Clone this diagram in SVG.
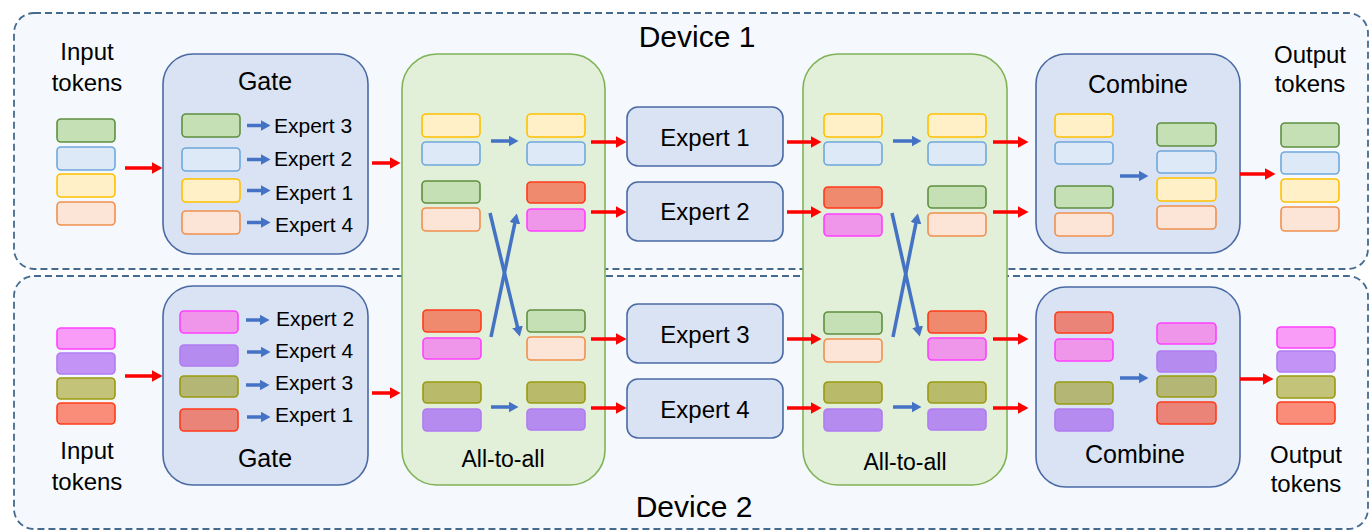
<svg xmlns="http://www.w3.org/2000/svg" width="1370" height="531" viewBox="0 0 1370 531">
<defs>
<style>
text{font-family:"Liberation Sans",Arial,sans-serif;fill:#000}
.dev{fill:#f5f8fc;stroke:#456a8e;stroke-width:1.8;stroke-dasharray:7 4}
.box{fill:#dae3f3;stroke:#4a6aa5;stroke-width:1.6}
.a2a{fill:#e2efd9;stroke:#7fb356;stroke-width:1.6}
.t{stroke-width:1.6}
.g{fill:#c5e0b4;stroke:#5f8f40}
.b{fill:#dde9f6;stroke:#6fa8dc}
.y{fill:#fff0c8;stroke:#ffc000}
.o{fill:#fce4d6;stroke:#f0904e}
.p{fill:#f096ea;stroke:#ff40ff}
.v{fill:#b68bef;stroke:#b07cf2}
.k{fill:#b9ba6a;stroke:#9a9a10}
.r{fill:#ef8a6e;stroke:#ff3b1a}
.ra{stroke:#ff0000;stroke-width:3.5;fill:none;marker-end:url(#rh)}
.ba{stroke:#4472c4;stroke-width:3.5;fill:none;marker-end:url(#bh)}
.title{font-size:30px}
.lab{font-size:24px}
.gt{font-size:25px}
.ex{font-size:21px}
.ek{font-size:24px}
.al{font-size:23px}
</style>
<marker id="rh" markerUnits="userSpaceOnUse" viewBox="0 0 11 12" markerWidth="11" markerHeight="12" refX="0.5" refY="6" orient="auto"><path d="M0,0 L11,6 L0,12 z" fill="#ff0000"/></marker>
<marker id="bh" markerUnits="userSpaceOnUse" viewBox="0 0 10 11" markerWidth="10" markerHeight="11" refX="0.5" refY="5.5" orient="auto"><path d="M0,0 L10,5.5 L0,11 z" fill="#4472c4"/></marker>
</defs>

<g id="device1">
<rect class="dev" x="14" y="13" width="1354" height="256" rx="20"/>
<text class="title" x="697" y="47" text-anchor="middle">Device 1</text>
</g>
<g id="device2">
<rect class="dev" x="14" y="276" width="1354" height="253" rx="20"/>
<text class="title" x="694" y="517" text-anchor="middle">Device 2</text>
</g>

<g id="input1">
<text class="lab" x="87" y="60" text-anchor="middle">Input</text>
<text class="lab" x="87" y="91" text-anchor="middle">tokens</text>
<g class="t">
<rect class="g" x="57" y="119" width="58" height="23" rx="4"/>
<rect class="b" x="57" y="147" width="58" height="23" rx="4"/>
<rect class="y" x="57" y="174" width="58" height="23" rx="4"/>
<rect class="o" x="57" y="202" width="58" height="23" rx="4"/>
</g>
</g>

<g id="input2">
<text class="lab" x="87" y="459" text-anchor="middle">Input</text>
<text class="lab" x="87" y="490" text-anchor="middle">tokens</text>
<g class="t">
<rect class="p" x="57" y="328" width="58" height="21" rx="4" style="fill:#f99cf7"/>
<rect class="v" x="57" y="353" width="58" height="21" rx="4" style="fill:#c394f5"/>
<rect class="k" x="57" y="378" width="58" height="21" rx="4" style="fill:#c3c47a"/>
<rect class="r" x="57" y="403" width="58" height="21" rx="4" style="fill:#f98d79"/>
</g>
</g>

<g id="gate1">
<rect class="box" x="163" y="54" width="205" height="200" rx="30"/>
<text class="gt" x="265" y="90" text-anchor="middle">Gate</text>
<g class="t">
<rect class="g" x="182" y="114" width="58" height="23" rx="4"/>
<rect class="b" x="182" y="148" width="58" height="23" rx="4"/>
<rect class="y" x="182" y="179" width="58" height="23" rx="4"/>
<rect class="o" x="182" y="211" width="58" height="23" rx="4"/>
</g>
<text class="ex" x="274" y="133">Expert 3</text>
<text class="ex" x="274" y="166">Expert 2</text>
<text class="ex" x="275" y="200">Expert 1</text>
<text class="ex" x="275" y="232">Expert 4</text>
</g>

<g id="gate2">
<rect class="box" x="163" y="286" width="205" height="199" rx="30"/>
<text class="gt" x="265" y="467" text-anchor="middle">Gate</text>
<g class="t">
<rect class="p" x="180" y="311" width="58" height="22" rx="4"/>
<rect class="v" x="180" y="345" width="58" height="21" rx="4"/>
<rect class="k" x="180" y="376" width="58" height="21" rx="4" style="fill:#b3b675"/>
<rect class="r" x="180" y="409" width="58" height="22" rx="4" style="fill:#ea8478"/>
</g>
<text class="ex" x="276" y="326">Expert 2</text>
<text class="ex" x="275" y="358">Expert 4</text>
<text class="ex" x="275" y="390">Expert 3</text>
<text class="ex" x="275" y="422">Expert 1</text>
</g>

<g id="alltoall1">
<rect class="a2a" x="402" y="54" width="203" height="431" rx="35"/>
<text class="al" x="503" y="467" text-anchor="middle">All-to-all</text>
<g class="t">
<rect class="y" x="422" y="114" width="58" height="23" rx="4"/>
<rect class="b" x="422" y="142" width="58" height="23" rx="4"/>
<rect class="g" x="422" y="181" width="58" height="22" rx="4"/>
<rect class="o" x="422" y="208" width="58" height="23" rx="4"/>
<rect class="r" x="423" y="310" width="58" height="22" rx="4"/>
<rect class="p" x="423" y="338" width="58" height="21" rx="4"/>
<rect class="k" x="423" y="382" width="58" height="21" rx="4"/>
<rect class="v" x="423" y="409" width="58" height="22" rx="4"/>
<rect class="y" x="527" y="114" width="58" height="23" rx="4"/>
<rect class="b" x="527" y="142" width="58" height="23" rx="4"/>
<rect class="r" x="527" y="182" width="58" height="21" rx="4"/>
<rect class="p" x="527" y="209" width="58" height="22" rx="4"/>
<rect class="g" x="527" y="310" width="58" height="22" rx="4"/>
<rect class="o" x="527" y="337" width="58" height="23" rx="4"/>
<rect class="k" x="527" y="382" width="58" height="21" rx="4"/>
<rect class="v" x="527" y="409" width="58" height="21" rx="4"/>
</g>
</g>

<g id="expert1"><rect class="box" x="627" y="107" width="156" height="59" rx="11"/><text class="ek" x="705" y="146" text-anchor="middle">Expert 1</text></g>
<g id="expert2"><rect class="box" x="627" y="182" width="156" height="59" rx="11"/><text class="ek" x="705" y="220" text-anchor="middle">Expert 2</text></g>
<g id="expert3"><rect class="box" x="627" y="304" width="156" height="59" rx="11"/><text class="ek" x="705" y="343" text-anchor="middle">Expert 3</text></g>
<g id="expert4"><rect class="box" x="627" y="379" width="156" height="59" rx="11"/><text class="ek" x="705" y="418" text-anchor="middle">Expert 4</text></g>

<g id="alltoall2">
<rect class="a2a" x="803" y="54" width="204" height="431" rx="35"/>
<text class="al" x="905" y="470" text-anchor="middle">All-to-all</text>
<g class="t">
<rect class="y" x="824" y="114" width="58" height="23" rx="4"/>
<rect class="b" x="824" y="142" width="58" height="23" rx="4"/>
<rect class="r" x="824" y="187" width="58" height="21" rx="4"/>
<rect class="p" x="824" y="214" width="58" height="22" rx="4"/>
<rect class="g" x="824" y="312" width="58" height="22" rx="4"/>
<rect class="o" x="824" y="339" width="58" height="23" rx="4"/>
<rect class="k" x="824" y="382" width="58" height="21" rx="4"/>
<rect class="v" x="824" y="409" width="58" height="22" rx="4"/>
<rect class="y" x="928" y="114" width="58" height="23" rx="4"/>
<rect class="b" x="928" y="142" width="58" height="23" rx="4"/>
<rect class="g" x="928" y="186" width="58" height="22" rx="4"/>
<rect class="o" x="928" y="213" width="58" height="23" rx="4"/>
<rect class="r" x="928" y="311" width="58" height="22" rx="4"/>
<rect class="p" x="928" y="338" width="58" height="22" rx="4"/>
<rect class="k" x="928" y="382" width="58" height="21" rx="4"/>
<rect class="v" x="928" y="409" width="58" height="21" rx="4"/>
</g>
</g>

<g id="combine1">
<rect class="box" x="1036" y="54" width="204" height="199" rx="30"/>
<text class="gt" x="1138" y="93" text-anchor="middle">Combine</text>
<g class="t">
<rect class="y" x="1055" y="114" width="58" height="23" rx="4"/>
<rect class="b" x="1055" y="142" width="58" height="22" rx="4"/>
<rect class="g" x="1055" y="186" width="58" height="22" rx="4"/>
<rect class="o" x="1055" y="213" width="58" height="23" rx="4"/>
<rect class="g" x="1157" y="123" width="59" height="23" rx="4"/>
<rect class="b" x="1157" y="151" width="59" height="22" rx="4"/>
<rect class="y" x="1157" y="178" width="59" height="23" rx="4"/>
<rect class="o" x="1157" y="206" width="59" height="23" rx="4"/>
</g>
</g>

<g id="combine2">
<rect class="box" x="1036" y="287" width="204" height="200" rx="30"/>
<text class="gt" x="1135" y="463" text-anchor="middle">Combine</text>
<g class="t">
<rect class="r" x="1055" y="312" width="58" height="21" rx="4" style="fill:#ea8478"/>
<rect class="p" x="1055" y="339" width="58" height="22" rx="4"/>
<rect class="k" x="1055" y="382" width="58" height="22" rx="4" style="fill:#b3b675"/>
<rect class="v" x="1055" y="409" width="58" height="22" rx="4"/>
<rect class="p" x="1157" y="323" width="59" height="21" rx="4"/>
<rect class="v" x="1157" y="351" width="59" height="21" rx="4"/>
<rect class="k" x="1157" y="376" width="59" height="21" rx="4" style="fill:#b3b675"/>
<rect class="r" x="1157" y="402" width="59" height="22" rx="4" style="fill:#ea8478"/>
</g>
</g>

<g id="output1">
<text class="lab" x="1310" y="63" text-anchor="middle">Output</text>
<text class="lab" x="1310" y="92" text-anchor="middle">tokens</text>
<g class="t">
<rect class="g" x="1281" y="123" width="58" height="24" rx="4"/>
<rect class="b" x="1281" y="152" width="58" height="22" rx="4"/>
<rect class="y" x="1281" y="179" width="58" height="23" rx="4"/>
<rect class="o" x="1281" y="207" width="58" height="24" rx="4"/>
</g>
</g>

<g id="output2">
<text class="lab" x="1306" y="463" text-anchor="middle">Output</text>
<text class="lab" x="1306" y="492" text-anchor="middle">tokens</text>
<g class="t">
<rect class="p" x="1277" y="327" width="58" height="21" rx="4" style="fill:#f99cf7"/>
<rect class="v" x="1277" y="351" width="58" height="21" rx="4" style="fill:#c394f5"/>
<rect class="k" x="1277" y="376" width="58" height="22" rx="4" style="fill:#c3c47a"/>
<rect class="r" x="1277" y="402" width="58" height="22" rx="4" style="fill:#f98d79"/>
</g>
</g>

<g id="connectors">
<line class="ra" x1="125" y1="168" x2="152" y2="168"/>
<line class="ra" x1="125" y1="376" x2="152" y2="376"/>
<line class="ra" x1="372" y1="163" x2="390" y2="163"/>
<line class="ra" x1="372" y1="393" x2="390" y2="393"/>
<line class="ra" x1="591" y1="142" x2="616" y2="142"/>
<line class="ra" x1="591" y1="212" x2="616" y2="212"/>
<line class="ra" x1="591" y1="339" x2="616" y2="339"/>
<line class="ra" x1="591" y1="408" x2="616" y2="408"/>
<line class="ra" x1="787" y1="142" x2="811" y2="142"/>
<line class="ra" x1="787" y1="212" x2="811" y2="212"/>
<line class="ra" x1="787" y1="339" x2="811" y2="339"/>
<line class="ra" x1="787" y1="408" x2="811" y2="408"/>
<line class="ra" x1="993" y1="142" x2="1018" y2="142"/>
<line class="ra" x1="993" y1="212" x2="1018" y2="212"/>
<line class="ra" x1="993" y1="339" x2="1018" y2="339"/>
<line class="ra" x1="993" y1="408" x2="1018" y2="408"/>
<line class="ra" x1="1240" y1="174" x2="1265" y2="174"/>
<line class="ra" x1="1240" y1="379" x2="1263" y2="379"/>
<line class="ba" x1="247" y1="125.5" x2="261" y2="125.5"/>
<line class="ba" x1="247" y1="159.5" x2="261" y2="159.5"/>
<line class="ba" x1="247" y1="190.5" x2="261" y2="190.5"/>
<line class="ba" x1="247" y1="222.5" x2="261" y2="222.5"/>
<line class="ba" x1="246" y1="320" x2="260" y2="320"/>
<line class="ba" x1="247" y1="352" x2="261" y2="352"/>
<line class="ba" x1="246" y1="385" x2="260" y2="385"/>
<line class="ba" x1="247" y1="417" x2="261" y2="417"/>
<line class="ba" x1="491" y1="141" x2="509" y2="141"/>
<line class="ba" x1="491" y1="407" x2="509" y2="407"/>
<line class="ba" x1="490" y1="213" x2="517.6" y2="327.3"/>
<line class="ba" x1="491" y1="337" x2="514.9" y2="222.8"/>
<line class="ba" x1="893" y1="141" x2="912" y2="141"/>
<line class="ba" x1="893" y1="407" x2="912" y2="407"/>
<line class="ba" x1="892" y1="213" x2="917.7" y2="327.3"/>
<line class="ba" x1="893" y1="337" x2="916.0" y2="222.8"/>
<line class="ba" x1="1120" y1="176" x2="1139" y2="176"/>
<line class="ba" x1="1120" y1="378" x2="1139" y2="378"/>
</g>
</svg>
